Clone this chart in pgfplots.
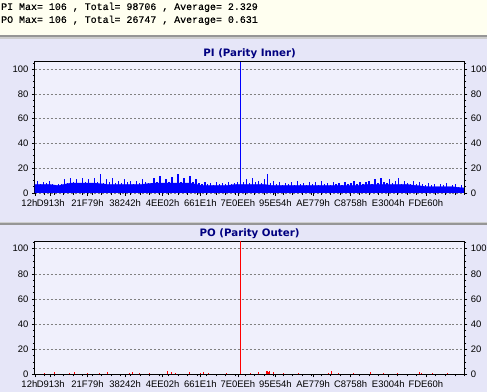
\documentclass[border=0pt]{standalone}
\usepackage{fontspec}
\setmainfont{Liberation Sans}
\newfontfamily\monofont[FakeBold=0.5]{Liberation Mono}
\newfontfamily\titlefont{DejaVu Sans}
\usepackage{pgfplots}
\pgfplotsset{compat=1.18}
\usepackage{pgfplotstable}
\definecolor{hdrbg}{RGB}{255,255,240}
\definecolor{panelbg}{RGB}{230,230,248}
\definecolor{plotbg}{RGB}{240,240,252}
\definecolor{navytitle}{RGB}{0,0,128}
\definecolor{sepdark}{RGB}{150,150,150}
\definecolor{seplight}{RGB}{205,205,205}
\definecolor{piblue}{RGB}{0,0,255}
\definecolor{pored}{RGB}{255,0,0}

% PI peak values, one per 3 px step from x=0 to x=432
\pgfplotstableread{
y
8
10
7
9
8
10
7
6
7
7
11
8
12
9
11
8
12
9
11
8
12
9
15
8
11
9
12
8
10
8
11
9
10
7
10
8
11
9
8
8
12
9
14
8
11
9
13
8
15
9
12
8
14
9
11
8
7
9
7
8
6
9
7
8
7
9
7
8
9
15
9
11
8
12
9
10
8
11
15
8
10
7
9
6
8
7
9
6
10
7
8
6
9
7
9
6
10
7
8
6
9
7
8
6
9
7
8
10
7
9
7
9
10
7
11
8
12
9
8
11
8
10
12
7
10
8
7
10
7
9
7
6
8
6
7
5
7
6
8
5
6
7
5
6
5
}\pidata

% PI base level, one per 12 px step from x=0 to x=432
\pgfplotstableread{
y
7
7
6
8
8
8
7
7
7
7
8
8
8
8
6
6
6
7
7
7
6
6
6
6
6
6
6
6
7
7
7
7
6
5
5
5
4
}\pibase

\pgfplotsset{
  panel/.style={
    scale only axis, width=432pt,
    xmin=0, xmax=432, ymin=0, ymax=106,
    axis background/.style={fill=plotbg},
    axis line style={black, line width=1.1pt},
    ytick={0,20,40,60,80,100},
    minor ytick={5,10,15,25,30,35,45,50,55,65,70,75,85,90,95,105},
    xtick={16,53,90.8,128.6,166.4,204.2,242,279.8,317.6,355.4,393.2},
    xticklabels={D913h,21F79h,38242h,4EE02h,661E1h,7E0EEh,95E54h,AE779h,C8758h,E3004h,FDE60h},
    minor xtick={9.6,19.2,...,430},
    extra x ticks={0},
    extra x tick labels={12h},
    extra x tick style={xticklabel style={anchor=north east, xshift=6pt}},
    xtick pos=bottom, ytick pos=left,
    tick align=outside,
    major tick length=3pt, minor tick length=2pt,
    tick style={black, line width=0.6pt},
    ymajorgrids,
    major grid style={gray, line width=0.5pt, dash pattern=on 2pt off 2pt},
    tick label style={font=\fontsize{9.5}{10}\selectfont},
    /pgf/number format/assume math mode=true,
    title style={at={(0.5,1)}, anchor=base, yshift=-1pt,
      font=\titlefont\bfseries\fontsize{10.3}{12}\selectfont, text=navytitle},
    clip=true,
  },
  rightlabels/.style={
    scale only axis, width=432pt,
    xmin=0, xmax=432, ymin=0, ymax=106,
    hide x axis,
    axis y line*=right,
    axis line style={black, line width=1.1pt},
    ytick={0,20,40,60,80,100},
    minor ytick={5,10,15,25,30,35,45,50,55,65,70,75,85,90,95,105},
    tick align=outside,
    major tick length=3pt, minor tick length=2pt,
    tick style={black, line width=0.6pt},
    tick label style={font=\fontsize{9.5}{10}\selectfont},
    /pgf/number format/assume math mode=true,
  },
}

\begin{document}
\begin{tikzpicture}
% backgrounds (1pt = 1px of the reference)
\fill[hdrbg] (0pt,359pt) rectangle (490pt,394pt);
\fill[sepdark] (0pt,357pt) rectangle (490pt,359pt);
\fill[seplight] (0pt,355pt) rectangle (490pt,357pt);
\fill[panelbg] (0pt,171pt) rectangle (490pt,355pt);
\fill[seplight] (0pt,169.5pt) rectangle (490pt,171pt);
\fill[sepdark] (0pt,167.5pt) rectangle (490pt,169.5pt);
\fill[panelbg] (0pt,0pt) rectangle (490pt,167.5pt);

\node[anchor=base west, inner sep=0pt, font=\monofont\fontsize{10}{12}\selectfont] at (1pt,384pt)
  {PI Max= 106 , Total= 98706 , Average= 2.329};
\node[anchor=base west, inner sep=0pt, font=\monofont\fontsize{10}{12}\selectfont] at (1pt,371pt)
  {PO Max= 106 , Total= 26747 , Average= 0.631};

% PI (Parity Inner)
\begin{axis}[panel, at={(35pt,200pt)}, anchor=south west, height=132pt,
  title={PI (Parity Inner)}]
  \addplot[sharp plot, draw=piblue, fill=piblue, line width=0.3pt, mark=none]
    table[x expr=\coordindex*12, y=y] {\pibase} \closedcycle;
  \addplot[ycomb, draw=piblue, line width=1.3pt, mark=none]
    table[x expr=\coordindex*3, y=y] {\pidata};
  \addplot[draw=piblue, line width=1pt, mark=none] coordinates {(207,0) (207,106)};
\end{axis}
\begin{axis}[rightlabels, at={(35pt,200pt)}, anchor=south west, height=132pt]
\end{axis}

% PO (Parity Outer)
\begin{axis}[panel, at={(35pt,17.5pt)}, anchor=south west, height=134pt,
  title={PO (Parity Outer)}]
  \addplot[ycomb, draw=pored, line width=0.9pt, mark=none] coordinates {
    (10,1) (20,2) (35,1) (40,2) (53,1) (65,1) (73,2) (95,1) (98,2) (105,1)
    (115,1) (133,3) (137,2) (141,1) (155,2) (167,1) (170,2) (175,1) (193,1)
    (217,1) (225,2) (233,3) (234,3) (235,2) (236,3) (240,2) (250,1) (265,1)
    (295,1) (298,3) (305,1) (320,1) (337,2) (338,2) (351,1) (365,1) (387,2)
    (389,1) (400,1) (415,1)
  };
  \addplot[draw=pored, line width=1pt, mark=none] coordinates {(207,0) (207,106)};
\end{axis}
\begin{axis}[rightlabels, at={(35pt,17.5pt)}, anchor=south west, height=134pt]
\end{axis}
\end{tikzpicture}
\end{document}
